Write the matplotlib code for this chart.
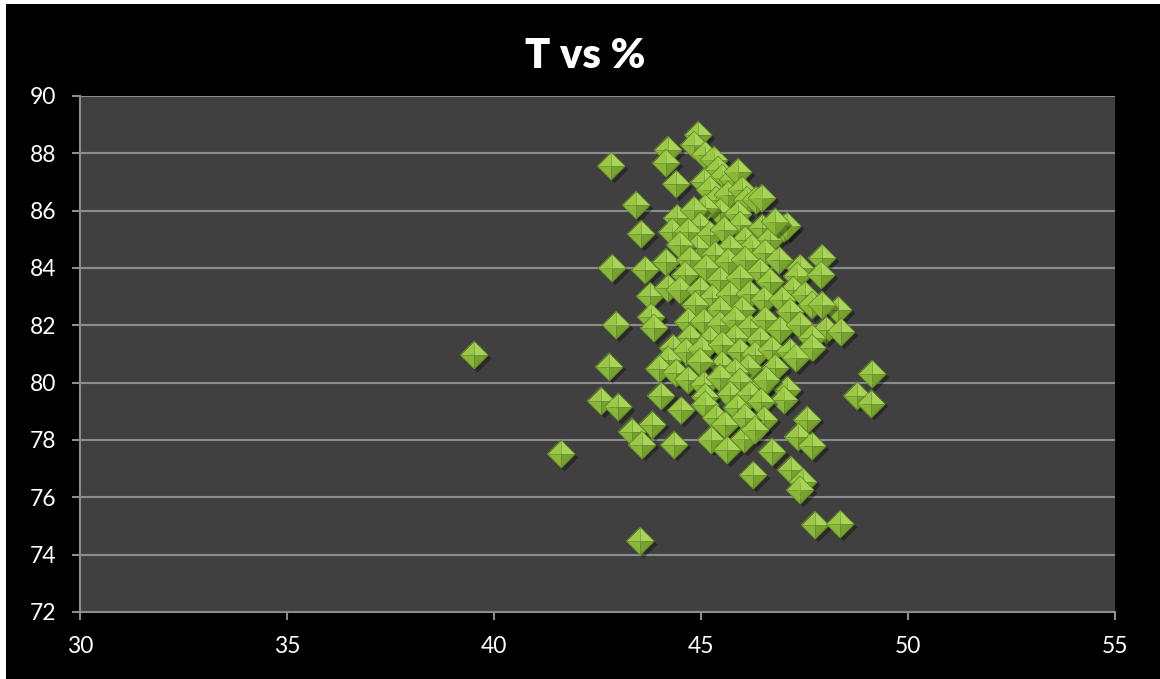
import matplotlib
matplotlib.use("Agg")
import matplotlib.pyplot as plt
from matplotlib.patches import Rectangle
from matplotlib.transforms import ScaledTranslation

plt.rcParams['font.family'] = ['Lato', 'DejaVu Sans']

# percentage (x) against temperature (y)
pct = [
    44.93, 44.83, 44.20, 45.10, 45.31,
    44.15, 42.83, 45.41, 45.51, 45.07, 44.40, 45.77, 45.22, 45.89,
    43.43, 45.36, 45.65, 45.99, 46.11, 45.46, 45.89, 45.10, 44.42, 44.83, 46.33, 46.47, 45.94, 44.98,
    43.55, 44.30, 44.69, 45.22, 45.56, 46.06, 46.47, 46.67, 47.00, 46.23, 45.70, 44.90, 44.49, 45.34,
    46.55, 47.08, 46.79,
    42.85, 43.65, 44.15, 44.73, 45.12, 45.65, 46.06, 46.43, 46.88, 47.39, 47.32, 47.92, 47.90, 44.61,
    45.46, 45.94, 46.67, 47.22,
    43.77, 44.20, 44.49, 44.98, 45.27, 45.70, 46.18, 46.52, 46.96, 47.51, 47.68, 48.31, 47.92, 44.86,
    45.99, 45.46, 47.15,
    42.95, 43.79, 43.86, 44.69, 45.07, 45.46, 45.82, 46.18, 46.55, 46.91, 47.39, 48.02, 48.38, 47.68,
    44.73, 45.82, 46.43, 45.22,
    44.32, 44.64, 45.02, 45.51, 45.94, 46.30, 46.71, 47.15, 47.68, 47.29, 45.51, 44.98, 44.20, 42.78,
    43.99, 46.14, 46.79, 45.82,
    44.40, 44.69, 45.07, 45.46, 45.94, 46.43, 47.08, 47.00, 49.13, 48.77, 44.03, 45.70, 46.18, 46.57,
    45.10,
    42.58, 43.00, 44.52, 45.10, 45.36, 45.87, 46.45, 46.52, 47.56, 49.11, 43.82, 45.58, 46.06,
    43.33, 43.57, 44.35, 45.24, 46.04, 45.63, 46.71, 47.34, 47.68, 41.62, 46.30,
    46.26, 47.17, 47.46, 47.39, 47.75, 48.36, 43.53,
    39.52,
]
temp = [
    88.64, 88.29, 88.12, 87.94, 87.77,
    87.66, 87.56, 87.42, 87.14, 87.00, 86.93, 87.07, 86.72, 87.35,
    86.20, 86.37, 86.55, 86.72, 86.37, 85.95, 85.88, 86.09, 85.74, 86.02, 86.37, 86.44, 85.50, 85.47,
    85.19, 85.26, 85.26, 85.15, 85.33, 84.98, 85.40, 84.98, 85.40, 84.70, 84.70, 84.70, 84.80, 84.45,
    84.52, 85.47, 85.61,
    84.00, 83.93, 84.21, 84.28, 84.00, 84.21, 84.28, 83.86, 84.28, 84.00, 83.72, 84.35, 83.76, 83.76,
    83.58, 83.65, 83.51, 83.23,
    83.02, 83.30, 83.23, 83.23, 82.95, 83.06, 83.09, 82.88, 82.88, 83.06, 82.71, 82.54, 82.71, 82.71,
    82.54, 82.54, 82.47,
    82.01, 82.29, 81.91, 82.12, 82.12, 82.01, 82.19, 81.91, 82.19, 81.84, 82.01, 81.84, 81.77, 81.56,
    81.56, 81.56, 81.49, 81.49,
    81.21, 81.08, 81.15, 81.32, 81.08, 80.97, 81.15, 81.08, 81.21, 80.87, 80.63, 80.73, 80.80, 80.56,
    80.49, 80.52, 80.52, 80.38,
    80.35, 80.10, 79.93, 80.17, 80.03, 79.83, 79.76, 79.41, 80.31, 79.55, 79.55, 79.58, 79.58, 80.10,
    79.51,
    79.37, 79.16, 79.03, 79.23, 78.78, 79.13, 79.34, 78.71, 78.71, 79.27, 78.54, 78.54, 78.78,
    78.29, 77.84, 77.84, 78.01, 78.04, 77.66, 77.59, 78.12, 77.80, 77.52, 78.36,
    76.78, 76.96, 76.54, 76.26, 75.04, 75.07, 74.48,
    80.97,
]

x_ticks = [30, 35, 40, 45, 50, 55]
y_ticks = [72, 74, 76, 78, 80, 82, 84, 86, 88, 90]

fig = plt.figure(figsize=(11.6, 6.79), dpi=100, facecolor='white')
fig.patches.append(Rectangle((6 / 1160, 0), 1, 1 - 4 / 679, transform=fig.transFigure,
                             facecolor='black', edgecolor='none', zorder=-10))

ax = fig.add_axes([80 / 1160, 1 - 612 / 679, 1035 / 1160, 516 / 679])
ax.set_facecolor('#404040')

# bevelled diamond: four triangular faces around the centre
faces = [
    ([(0, 0), (-1, 0), (0, 1)], '#9bc946'),
    ([(0, 0), (0, 1), (1, 0)], '#a8d558'),
    ([(0, 0), (1, 0), (0, -1)], '#77a22e'),
    ([(0, 0), (0, -1), (-1, 0)], '#88b73a'),
]
outline = [(-1, 0), (0, 1), (1, 0), (0, -1), (-1, 0)]
size = 400
shadow = ax.transData + ScaledTranslation(2 / 72, -2 / 72, fig.dpi_scale_trans)

for i, (x, y) in enumerate(zip(pct, temp)):
    z = 3 + i * 0.01
    ax.scatter([x], [y], s=size, marker=outline, color='black', alpha=0.35,
               linewidths=0, transform=shadow, zorder=z, clip_on=False)
    for verts, c in faces:
        ax.scatter([x], [y], s=size, marker=verts, color=c, linewidths=0, zorder=z)
    ax.scatter([x], [y], s=size, marker=outline, facecolors='none',
               edgecolors='#628d25', linewidths=0.6, zorder=z)

ax.set_xlim(30, 55)
ax.set_ylim(72, 90)
ax.set_xticks(x_ticks)
ax.set_yticks(y_ticks)

ax.grid(axis='y', color='#8c8c8c', linewidth=1.5)
ax.set_axisbelow(True)
for side in ['top', 'right']:
    ax.spines[side].set_visible(False)
for side in ['left', 'bottom']:
    ax.spines[side].set_color('#8c8c8c')
    ax.spines[side].set_linewidth(1.5)

ax.tick_params(colors='#8c8c8c', labelcolor='white', labelsize=16.5,
               length=6, width=1.5, direction='out')
ax.tick_params(axis='y', pad=11)
ax.tick_params(axis='x', pad=11)

fig.text(585 / 1160, 1 - 56 / 679, 'T vs %', color='white', fontsize=30,
         fontweight='heavy', ha='center', va='center')

fig.savefig('out.png', dpi=100, facecolor=fig.get_facecolor())
